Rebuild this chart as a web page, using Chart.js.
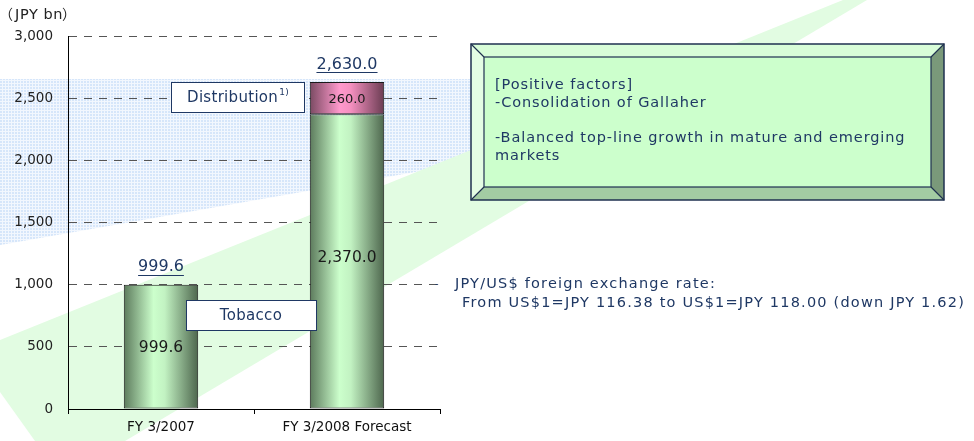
<!DOCTYPE html>
<html>
<head>
<meta charset="utf-8">
<script src="https://cdn.jsdelivr.net/npm/chart.js@4"></script>
<style>
  html, body { margin: 0; padding: 0; background: #fff; }
  #wrap { position: relative; width: 974px; height: 441px; }
</style>
</head>
<body>
<div id="wrap"><canvas id="chart" width="974" height="441"></canvas></div>
<script>
// data
const categories = ["FY 3/2007", "FY 3/2008 Forecast"];
const tobacco = [999.6, 2370.0];
const distribution = [null, 260.0];
const yMax = 3000;
const yStep = 500;
const unitLabel = "JPY bn";
const factorLines = ["[Positive factors]", "-Consolidation of Gallaher", "", "-Balanced top-line growth in mature and emerging", "markets"];
const fxLines = ["JPY/US$ foreign exchange rate:", "From US$1=JPY 116.38 to US$1=JPY 118.00 (down JPY 1.62)"];

const FONT = '"DejaVu Sans", "Noto Sans CJK JP", sans-serif';
const NAVY = "#1f3864";

const fmt1 = v => v.toLocaleString("en-US", { minimumFractionDigits: 1, maximumFractionDigits: 1 });

// horizontal "cylinder" gradient for each bar
function barFill(stops) {
  return (context) => {
    const chart = context.chart;
    const xs = chart.scales.x;
    if (!chart.chartArea || !xs) return stops[1][1];
    const cx = xs.getPixelForValue(context.dataIndex);
    const w = (xs.width / categories.length) * 0.4;
    const g = chart.ctx.createLinearGradient(cx - w / 2, 0, cx + w / 2, 0);
    stops.forEach(([o, c]) => g.addColorStop(o, c));
    return g;
  };
}

const greenStops = [[0, "#5c7a5c"], [0.4, "#ccffcc"], [0.55, "#c2f2c2"], [1, "#4d664d"]];
const pinkStops = [[0, "#7a4a62"], [0.4, "#ff99cc"], [0.55, "#f590c0"], [1, "#6a3c52"]];

// background decoration: dotted blue band + pale green arrow
const backdrop = {
  id: "backdrop",
  beforeDraw(chart) {
    const ctx = chart.ctx;
    ctx.save();
    ctx.fillStyle = "#fff";
    ctx.fillRect(0, 0, chart.width, chart.height);

    const pc = document.createElement("canvas");
    pc.width = 3; pc.height = 3;
    const p = pc.getContext("2d");
    p.fillStyle = "#f2f7fe"; p.fillRect(0, 0, 3, 3);
    p.fillStyle = "#d6e6fa"; p.fillRect(0, 0, 2, 2);
    ctx.fillStyle = ctx.createPattern(pc, "repeat");
    ctx.beginPath();
    ctx.moveTo(0, 79); ctx.lineTo(472, 79); ctx.lineTo(472, 162); ctx.lineTo(0, 245);
    ctx.closePath(); ctx.fill();

    ctx.fillStyle = "#e2fce2";
    ctx.beginPath();
    ctx.moveTo(0, 340); ctx.lineTo(843, 0); ctx.lineTo(867, 0);
    ctx.lineTo(125, 441); ctx.lineTo(35, 441); ctx.lineTo(0, 392);
    ctx.closePath(); ctx.fill();
    ctx.restore();
  }
};

function box(ctx, x, y, w, h, text, sup) {
  ctx.fillStyle = "#fff";
  ctx.fillRect(x, y, w, h);
  ctx.strokeStyle = NAVY;
  ctx.lineWidth = 1;
  ctx.strokeRect(x + 0.5, y + 0.5, w, h);
  ctx.fillStyle = NAVY;
  ctx.letterSpacing = "0.3px";
  ctx.font = "15px " + FONT;
  ctx.textBaseline = "middle";
  const tw = ctx.measureText(text).width;
  ctx.font = "9px " + FONT;
  const sw = sup ? ctx.measureText(sup).width : 0;
  let tx = x + (w - tw - sw) / 2;
  ctx.font = "15px " + FONT;
  ctx.textAlign = "left";
  ctx.fillText(text, tx, y + h / 2 + 1);
  if (sup) {
    ctx.font = "9px " + FONT;
    ctx.fillText(sup, tx + tw + 1, y + h / 2 - 4);
  }
  ctx.letterSpacing = "0px";
}

const annotations = {
  id: "annotations",
  afterDatasetsDraw(chart) {
    const ctx = chart.ctx;
    ctx.save();
    const m0 = chart.getDatasetMeta(0).data;
    const m1 = chart.getDatasetMeta(1).data;

    // values inside segments
    ctx.textAlign = "center";
    ctx.textBaseline = "middle";
    ctx.fillStyle = "#1a1a1a";
    m0.forEach((el, i) => {
      ctx.font = "15.5px " + FONT;
      const yOff = i === 1 ? -3 : 1;
      ctx.fillText(fmt1(tobacco[i]), el.x, (el.y + el.base) / 2 + yOff);
    });
    m1.forEach((el, i) => {
      if (distribution[i] == null) return;
      ctx.font = "13px " + FONT;
      ctx.fillText(fmt1(distribution[i]), el.x, (el.y + el.base) / 2 + 1);
    });

    // totals, underlined
    ctx.font = "16px " + FONT;
    ctx.fillStyle = NAVY;
    ctx.strokeStyle = NAVY;
    ctx.lineWidth = 1;
    categories.forEach((c, i) => {
      const total = tobacco[i] + (distribution[i] || 0);
      const top = chart.scales.y.getPixelForValue(total);
      const x = m0[i].x;
      const y = top - 17.5;
      ctx.fillText(fmt1(total), x, y);
      const w = ctx.measureText(fmt1(total)).width;
      ctx.beginPath();
      ctx.moveTo(x - w / 2, Math.round(y + 7.5) + 0.5);
      ctx.lineTo(x + w / 2, Math.round(y + 7.5) + 0.5);
      ctx.stroke();
    });

    // callouts
    box(ctx, 171, 82, 133, 30, "Distribution", "1)");
    box(ctx, 186, 300, 130, 30, "Tobacco");
    ctx.restore();
  },
  afterDraw(chart) {
    const ctx = chart.ctx;
    ctx.save();
    // unit label with full-width brackets
    ctx.fillStyle = "#222";
    ctx.textAlign = "left";
    ctx.textBaseline = "middle";
    ctx.font = '14px "Noto Sans CJK JP", ' + FONT;
    ctx.fillText("（", -1, 14);
    ctx.fillText("）", 62, 14);
    ctx.font = "14.5px " + FONT;
    ctx.letterSpacing = "0.6px";
    ctx.fillText(unitLabel, 15, 15);
    ctx.letterSpacing = "0px";

    // bevelled box
    const L = 471, T = 44, R = 944, B = 200, b = 13;
    const poly = (pts, fill) => {
      ctx.beginPath();
      ctx.moveTo(pts[0][0], pts[0][1]);
      pts.slice(1).forEach(p => ctx.lineTo(p[0], p[1]));
      ctx.closePath();
      ctx.fillStyle = fill;
      ctx.fill();
    };
    poly([[L, T], [R, T], [R - b, T + b], [L + b, T + b]], "#d8fdd8");
    poly([[L, T], [L + b, T + b], [L + b, B - b], [L, B]], "#e4fde4");
    poly([[L, B], [L + b, B - b], [R - b, B - b], [R, B]], "#a3cca3");
    poly([[R, T], [R, B], [R - b, B - b], [R - b, T + b]], "#7a997a");
    ctx.fillStyle = "#ccffcc";
    ctx.fillRect(L + b, T + b, R - L - 2 * b, B - T - 2 * b);
    ctx.strokeStyle = "#1f3050";
    ctx.lineWidth = 1.5;
    ctx.strokeRect(L, T, R - L, B - T);
    ctx.lineWidth = 1.2;
    ctx.strokeRect(L + b, T + b, R - L - 2 * b, B - T - 2 * b);
    ctx.beginPath();
    ctx.moveTo(L, T); ctx.lineTo(L + b, T + b);
    ctx.moveTo(R, T); ctx.lineTo(R - b, T + b);
    ctx.moveTo(L, B); ctx.lineTo(L + b, B - b);
    ctx.moveTo(R, B); ctx.lineTo(R - b, B - b);
    ctx.stroke();

    ctx.font = "14.5px " + FONT;
    ctx.fillStyle = NAVY;
    ctx.letterSpacing = "0.9px";
    factorLines.forEach((t, i) => ctx.fillText(t, 495, 85 + i * 17.8));

    // fx note
    ctx.letterSpacing = "0px";
    ctx.font = "10px " + FONT;
    ctx.fillText("-", 435, 284);
    ctx.font = "14.5px " + FONT;
    ctx.letterSpacing = "1.2px";
    ctx.fillText(fxLines[0], 455, 284);
    ctx.fillText(fxLines[1], 462, 303);
    ctx.letterSpacing = "0px";
    ctx.restore();
  }
};

new Chart(document.getElementById("chart").getContext("2d"), {
  type: "bar",
  data: {
    labels: categories,
    datasets: [
      {
        label: "Tobacco",
        data: tobacco,
        backgroundColor: barFill(greenStops),
        borderColor: "#1a1a1a",
        borderWidth: 1,
        borderSkipped: false,
      },
      {
        label: "Distribution",
        data: distribution,
        backgroundColor: barFill(pinkStops),
        borderColor: "#1a1a1a",
        borderWidth: 1,
        borderSkipped: false,
      },
    ],
  },
  options: {
    responsive: false,
    animation: false,
    datasets: { bar: { barPercentage: 0.4, categoryPercentage: 1.0 } },
    layout: { padding: { left: 0, right: 534, top: 36, bottom: 0 } },
    plugins: { legend: { display: false }, tooltip: { enabled: false } },
    scales: {
      x: {
        stacked: true,
        afterFit: (s) => { s.height = 32; },
        grid: { display: true, drawOnChartArea: false, drawTicks: true, tickLength: 5, color: "#000" },
        border: { color: "#000", width: 1 },
        ticks: { color: "#111", font: { family: FONT, size: 13.5 }, padding: 5 },
      },
      y: {
        stacked: true,
        min: 0,
        max: yMax,
        afterFit: (s) => { s.width = 68; },
        ticks: {
          stepSize: yStep,
          padding: 15,
          color: "#222",
          font: { family: FONT, size: 13.5 },
          callback: (v) => v.toLocaleString("en-US"),
        },
        grid: { color: "#555", drawTicks: false, lineWidth: 1 },
        border: { color: "#000", width: 1, dash: [8, 7] },
      },
    },
  },
  plugins: [backdrop, annotations],
});
</script>
</body>
</html>
